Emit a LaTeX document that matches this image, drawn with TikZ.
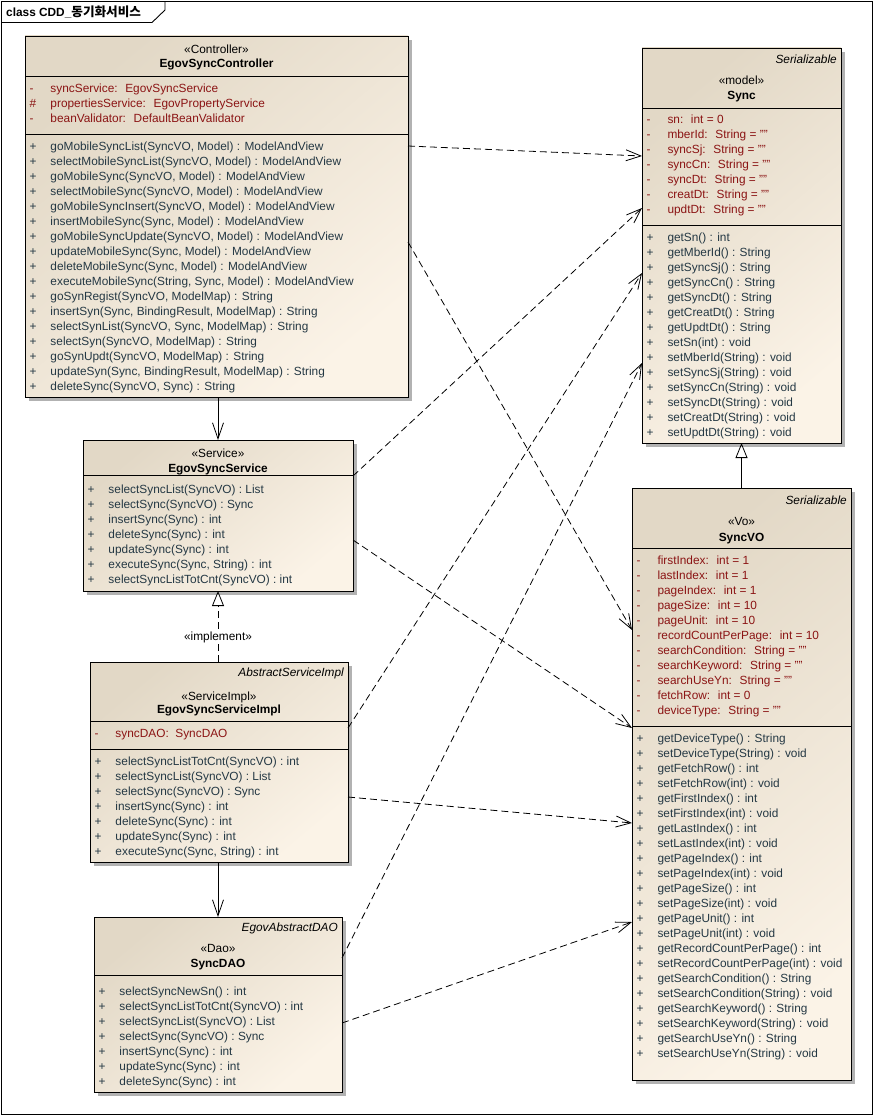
\documentclass[tikz,border=0pt]{standalone}
\usepackage{fontspec}
\setmainfont{Liberation Sans}
\newfontfamily\kr{Noto Sans CJK KR}
\usetikzlibrary{arrows.meta, shadows}
\definecolor{clsdark}{RGB}{226,216,198}
\definecolor{clslight}{RGB}{251,243,231}
\definecolor{attrred}{RGB}{139,20,20}
\definecolor{operblue}{RGB}{36,56,68}
\def\clsfont{\fontsize{11.85}{15}\selectfont}
\newcommand{\mrow}[2]{\strut\makebox[21pt][l]{#1}#2}
\tikzstyle{cls} = [rectangle, draw=black, line width=0.9pt, inner sep=0pt, outer sep=0pt, anchor=north west, top color=clsdark, bottom color=clslight, shading angle=40, drop shadow={shadow xshift=4pt, shadow yshift=-4pt, fill=black!30, opacity=1}]
\tikzstyle{sep} = [line width=0.9pt]
\tikzstyle{stereo} = [anchor=base, inner sep=0pt, font=\clsfont]
\tikzstyle{cname} = [anchor=base, inner sep=0pt, font=\clsfont\bfseries]
\tikzstyle{parent} = [anchor=base east, inner sep=0pt, font=\clsfont\itshape]
\tikzstyle{attr} = [anchor=north west, inner sep=0pt, align=left, text=attrred, font=\clsfont]
\tikzstyle{oper} = [anchor=north west, inner sep=0pt, align=left, text=operblue, font=\clsfont]
\tikzstyle{dep} = [-{Straight Barb[length=15pt,width=11pt]}, line width=0.8pt, dash pattern=on 7pt off 4pt]
\tikzstyle{nav} = [-{Straight Barb[length=16pt,width=11pt]}, line width=0.8pt]
\tikzstyle{gen} = [-{Triangle[open,length=15pt,width=12pt]}, line width=0.8pt]
\begin{document}
\begin{tikzpicture}[x=1pt, y=-1pt]
  \useasboundingbox (0,0) rectangle (877,1118);

  % frame
  \draw[sep] (1.5,1.5) rectangle (872.5,1114.5);
  \draw[sep] (1.5,22.5) -- (152,22.5) -- (165,10) -- (165,1.5);
  \node (frmlbl) [anchor=base west, inner sep=0pt, font=\clsfont\bfseries] at (6,16.5) {class CDD\_{\kr\fontsize{12.6}{15}\selectfont 동기화서비스}};

  % controller
  \node (ctrl) [cls, minimum width=383pt, minimum height=361pt] at (25,36) {};
  \draw[sep] ([yshift=-40pt]ctrl.north west) -- ([yshift=-40pt]ctrl.north east);
  \draw[sep] ([yshift=-98pt]ctrl.north west) -- ([yshift=-98pt]ctrl.north east);
  \node (ctrlst) [stereo] at ([yshift=-17.5pt]ctrl.north) {«Controller»};
  \node (ctrlnm) [cname] at ([yshift=-31.8pt]ctrl.north) {EgovSyncController};
  \node (ctrlat) [attr] at ([xshift=4.3pt,yshift=-45.5pt]ctrl.north west) {%
    \mrow{-}{syncService:~ EgovSyncService}\\
    \mrow{\#}{propertiesService:~ EgovPropertyService}\\
    \mrow{-}{beanValidator:~ DefaultBeanValidator}};
  \node (ctrlop) [oper] at ([xshift=4.3pt,yshift=-103.5pt]ctrl.north west) {%
    \mrow{+}{goMobileSyncList(SyncVO, Model) : ModelAndView}\\
    \mrow{+}{selectMobileSyncList(SyncVO, Model) : ModelAndView}\\
    \mrow{+}{goMobileSync(SyncVO, Model) : ModelAndView}\\
    \mrow{+}{selectMobileSync(SyncVO, Model) : ModelAndView}\\
    \mrow{+}{goMobileSyncInsert(SyncVO, Model) : ModelAndView}\\
    \mrow{+}{insertMobileSync(Sync, Model) : ModelAndView}\\
    \mrow{+}{goMobileSyncUpdate(SyncVO, Model) : ModelAndView}\\
    \mrow{+}{updateMobileSync(Sync, Model) : ModelAndView}\\
    \mrow{+}{deleteMobileSync(Sync, Model) : ModelAndView}\\
    \mrow{+}{executeMobileSync(String, Sync, Model) : ModelAndView}\\
    \mrow{+}{goSynRegist(SyncVO, ModelMap) : String}\\
    \mrow{+}{insertSyn(Sync, BindingResult, ModelMap) : String}\\
    \mrow{+}{selectSynList(SyncVO, Sync, ModelMap) : String}\\
    \mrow{+}{selectSyn(SyncVO, ModelMap) : String}\\
    \mrow{+}{goSynUpdt(SyncVO, ModelMap) : String}\\
    \mrow{+}{updateSyn(Sync, BindingResult, ModelMap) : String}\\
    \mrow{+}{deleteSync(SyncVO, Sync) : String}};

  % service
  \node (svc) [cls, minimum width=270pt, minimum height=151pt] at (83,440) {};
  \draw[sep] ([yshift=-35pt]svc.north west) -- ([yshift=-35pt]svc.north east);
  \node (svcst) [stereo] at ([yshift=-17.2pt]svc.north) {«Service»};
  \node (svcnm) [cname] at ([yshift=-32.2pt]svc.north) {EgovSyncService};
  \node (svcop) [oper] at ([xshift=4.3pt,yshift=-43pt]svc.north west) {%
    \mrow{+}{selectSyncList(SyncVO) : List}\\
    \mrow{+}{selectSync(SyncVO) : Sync}\\
    \mrow{+}{insertSync(Sync) : int}\\
    \mrow{+}{deleteSync(Sync) : int}\\
    \mrow{+}{updateSync(Sync) : int}\\
    \mrow{+}{executeSync(Sync, String) : int}\\
    \mrow{+}{selectSyncListTotCnt(SyncVO) : int}};

  % service impl
  \node (impl) [cls, minimum width=258pt, minimum height=200pt] at (90,662) {};
  \draw[sep] ([yshift=-59pt]impl.north west) -- ([yshift=-59pt]impl.north east);
  \draw[sep] ([yshift=-87pt]impl.north west) -- ([yshift=-87pt]impl.north east);
  \node (implpa) [parent] at ([xshift=-4pt,yshift=-14.5pt]impl.north east) {AbstractServiceImpl};
  \node (implst) [stereo] at ([yshift=-38.5pt]impl.north) {«ServiceImpl»};
  \node (implnm) [cname] at ([yshift=-51.8pt]impl.north) {EgovSyncServiceImpl};
  \node (implat) [attr] at ([xshift=4.3pt,yshift=-65pt]impl.north west) {%
    \mrow{-}{syncDAO:~ SyncDAO}};
  \node (implop) [oper] at ([xshift=4.3pt,yshift=-93pt]impl.north west) {%
    \mrow{+}{selectSyncListTotCnt(SyncVO) : int}\\
    \mrow{+}{selectSyncList(SyncVO) : List}\\
    \mrow{+}{selectSync(SyncVO) : Sync}\\
    \mrow{+}{insertSync(Sync) : int}\\
    \mrow{+}{deleteSync(Sync) : int}\\
    \mrow{+}{updateSync(Sync) : int}\\
    \mrow{+}{executeSync(Sync, String) : int}};

  % dao
  \node (dao) [cls, minimum width=248pt, minimum height=175pt] at (94,917) {};
  \draw[sep] ([yshift=-58pt]dao.north west) -- ([yshift=-58pt]dao.north east);
  \node (daopa) [parent] at ([xshift=-4pt,yshift=-14.2pt]dao.north east) {EgovAbstractDAO};
  \node (daost) [stereo] at ([yshift=-35.8pt]dao.north) {«Dao»};
  \node (daonm) [cname] at ([yshift=-50.2pt]dao.north) {SyncDAO};
  \node (daoop) [oper] at ([xshift=4.3pt,yshift=-67.5pt]dao.north west) {%
    \mrow{+}{selectSyncNewSn() : int}\\
    \mrow{+}{selectSyncListTotCnt(SyncVO) : int}\\
    \mrow{+}{selectSyncList(SyncVO) : List}\\
    \mrow{+}{selectSync(SyncVO) : Sync}\\
    \mrow{+}{insertSync(Sync) : int}\\
    \mrow{+}{updateSync(Sync) : int}\\
    \mrow{+}{deleteSync(Sync) : int}};

  % model
  \node (sync) [cls, minimum width=199pt, minimum height=395pt] at (642,48) {};
  \draw[sep] ([yshift=-60pt]sync.north west) -- ([yshift=-60pt]sync.north east);
  \draw[sep] ([yshift=-177pt]sync.north west) -- ([yshift=-177pt]sync.north east);
  \node (syncpa) [parent] at ([xshift=-4pt,yshift=-15.5pt]sync.north east) {Serializable};
  \node (syncst) [stereo] at ([yshift=-36.5pt]sync.north) {«model»};
  \node (syncnm) [cname] at ([yshift=-51.5pt]sync.north) {Sync};
  \node (syncat) [attr] at ([xshift=4.3pt,yshift=-64.5pt]sync.north west) {%
    \mrow{-}{sn:~ int = 0}\\
    \mrow{-}{mberId:~ String = ""}\\
    \mrow{-}{syncSj:~ String = ""}\\
    \mrow{-}{syncCn:~ String = ""}\\
    \mrow{-}{syncDt:~ String = ""}\\
    \mrow{-}{creatDt:~ String = ""}\\
    \mrow{-}{updtDt:~ String = ""}};
  \node (syncop) [oper] at ([xshift=4.3pt,yshift=-182.7pt]sync.north west) {%
    \mrow{+}{getSn() : int}\\
    \mrow{+}{getMberId() : String}\\
    \mrow{+}{getSyncSj() : String}\\
    \mrow{+}{getSyncCn() : String}\\
    \mrow{+}{getSyncDt() : String}\\
    \mrow{+}{getCreatDt() : String}\\
    \mrow{+}{getUpdtDt() : String}\\
    \mrow{+}{setSn(int) : void}\\
    \mrow{+}{setMberId(String) : void}\\
    \mrow{+}{setSyncSj(String) : void}\\
    \mrow{+}{setSyncCn(String) : void}\\
    \mrow{+}{setSyncDt(String) : void}\\
    \mrow{+}{setCreatDt(String) : void}\\
    \mrow{+}{setUpdtDt(String) : void}};

  % vo
  \node (syncvo) [cls, minimum width=219pt, minimum height=592pt] at (632,488) {};
  \draw[sep] ([yshift=-60pt]syncvo.north west) -- ([yshift=-60pt]syncvo.north east);
  \draw[sep] ([yshift=-238pt]syncvo.north west) -- ([yshift=-238pt]syncvo.north east);
  \node (syncvopa) [parent] at ([xshift=-4pt,yshift=-16.5pt]syncvo.north east) {Serializable};
  \node (syncvost) [stereo] at ([yshift=-37.5pt]syncvo.north) {«Vo»};
  \node (syncvonm) [cname] at ([yshift=-53.2pt]syncvo.north) {SyncVO};
  \node (syncvoat) [attr] at ([xshift=4.3pt,yshift=-65.5pt]syncvo.north west) {%
    \mrow{-}{firstIndex:~ int = 1}\\
    \mrow{-}{lastIndex:~ int = 1}\\
    \mrow{-}{pageIndex:~ int = 1}\\
    \mrow{-}{pageSize:~ int = 10}\\
    \mrow{-}{pageUnit:~ int = 10}\\
    \mrow{-}{recordCountPerPage:~ int = 10}\\
    \mrow{-}{searchCondition:~ String = ""}\\
    \mrow{-}{searchKeyword:~ String = ""}\\
    \mrow{-}{searchUseYn:~ String = ""}\\
    \mrow{-}{fetchRow:~ int = 0}\\
    \mrow{-}{deviceType:~ String = ""}};
  \node (syncvoop) [oper] at ([xshift=4.3pt,yshift=-244pt]syncvo.north west) {%
    \mrow{+}{getDeviceType() : String}\\
    \mrow{+}{setDeviceType(String) : void}\\
    \mrow{+}{getFetchRow() : int}\\
    \mrow{+}{setFetchRow(int) : void}\\
    \mrow{+}{getFirstIndex() : int}\\
    \mrow{+}{setFirstIndex(int) : void}\\
    \mrow{+}{getLastIndex() : int}\\
    \mrow{+}{setLastIndex(int) : void}\\
    \mrow{+}{getPageIndex() : int}\\
    \mrow{+}{setPageIndex(int) : void}\\
    \mrow{+}{getPageSize() : int}\\
    \mrow{+}{setPageSize(int) : void}\\
    \mrow{+}{getPageUnit() : int}\\
    \mrow{+}{setPageUnit(int) : void}\\
    \mrow{+}{getRecordCountPerPage() : int}\\
    \mrow{+}{setRecordCountPerPage(int) : void}\\
    \mrow{+}{getSearchCondition() : String}\\
    \mrow{+}{setSearchCondition(String) : void}\\
    \mrow{+}{getSearchKeyword() : String}\\
    \mrow{+}{setSearchKeyword(String) : void}\\
    \mrow{+}{getSearchUseYn() : String}\\
    \mrow{+}{setSearchUseYn(String) : void}};

  % associations, realization, generalization
  \draw[nav] (svc.north |- ctrl.south) -- (svc.north);
  \draw[nav] (dao.north |- impl.south) -- (dao.north);
  \draw[gen, dash pattern=on 7pt off 4pt] (svc.south |- impl.north) -- node[pos=0.34, fill=white, inner sep=1pt, font=\clsfont] (implbl) {«implement»} (svc.south);
  \draw[gen] (sync.south |- syncvo.north) -- (sync.south);

  % dependencies
  \draw[dep] ([yshift=-110pt]ctrl.north east) -- ([yshift=-108pt]sync.north west);
  \draw[dep] ([yshift=-206pt]ctrl.north east) -- ([yshift=-142pt]syncvo.north west);
  \draw[dep] ([yshift=-36pt]svc.north east) -- ([yshift=-160pt]sync.north west);
  \draw[dep] ([yshift=-100pt]svc.north east) -- ([yshift=-240pt]syncvo.north west);
  \draw[dep] ([yshift=-66pt]impl.north east) -- ([yshift=-225pt]sync.north west);
  \draw[dep] ([yshift=-135pt]impl.north east) -- ([yshift=-335pt]syncvo.north west);
  \draw[dep] ([yshift=-41pt]dao.north east) -- ([yshift=-315pt]sync.north west);
  \draw[dep] ([yshift=-106pt]dao.north east) -- ([yshift=-434pt]syncvo.north west);

\end{tikzpicture}
\end{document}
